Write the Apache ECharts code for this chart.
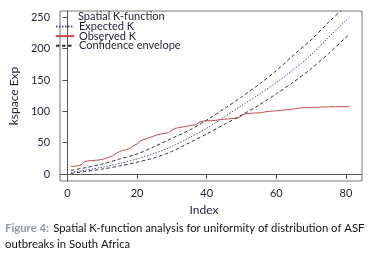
<!DOCTYPE html>
<html>
<head>
<meta charset="utf-8">
<script src="https://cdn.jsdelivr.net/npm/echarts@6/dist/echarts.min.js"></script>
<style>
  html, body { margin: 0; padding: 0; background: #fff; }
  #chart { width: 371px; height: 257px; }
</style>
</head>
<body>
<div id="chart"></div>
<script>
// index values for the smooth curves (expected K + envelope)
var envIndex = [1, 5, 10, 15, 20, 25, 30, 35, 40, 45, 50, 55, 60, 65, 70, 75, 80, 81];
var expectedK = [3, 6, 11, 17, 24, 33, 44, 58, 73, 91, 109, 127, 146, 167, 190, 218, 245, 250];
var upperEnv  = [6, 10, 16, 24, 32, 44, 57, 70, 86, 104, 123, 143, 165, 190, 214, 242, 268, 274];
var lowerEnv  = [1, 4, 8, 13, 19, 26, 36, 50, 64, 79, 94, 110, 128, 147, 168, 192, 218, 223];

// observed K, one value per index 1..81
var obsIndex = [];
for (var i = 1; i <= 81; i++) obsIndex.push(i);
var observedK = [
    12, 12.5, 13, 15, 20, 21, 21.5, 22, 22.5, 23.5,
    25, 27, 29, 33, 36, 38, 39, 41, 45, 48,
    53, 55, 57, 59, 61, 63, 64, 65, 66, 70,
    73, 74, 75, 76, 77, 78, 78.5, 83, 84.5, 85,
    85, 85.5, 86, 87, 87.5, 88, 88.5, 89, 89.5, 93,
    96, 96.5, 97, 97.5, 97.5, 98, 99.5, 100, 100.5, 101,
    101.5, 102, 102.5, 103, 104, 104.5, 105.5, 106, 106, 106.5,
    106.5, 106.5, 107, 107, 107, 107.5, 107.5, 107.5, 107.5, 107.5, 107.5
];

var xTicks = [0, 20, 40, 60, 80];
var yTicks = [0, 50, 100, 150, 200, 250];

function pairs(xs, ys) {
    return xs.map(function (x, k) { return [x, ys[k]]; });
}

var txt = '#1f1f3a';
var font = 'Lato';

var chart = echarts.init(document.getElementById('chart'), null, { renderer: 'canvas' });

var option = {
    animation: false,
    textStyle: { fontFamily: font },
    title: [{
        text: 'Spatial K-function',
        left: 78, top: 11,
        padding: 0,
        textStyle: { fontFamily: font, fontSize: 11, fontWeight: 'normal', color: txt }
    }, {
        text: '{b|Figure 4:} {n|Spatial K-function analysis for uniformity of distribution of ASF}\n{n|outbreaks in South Africa}',
        left: 5, top: 220,
        padding: 0,
        textStyle: {
            fontFamily: font,
            lineHeight: 16,
            rich: {
                b: { fontFamily: font, fontSize: 11.3, fontWeight: 'bold', color: '#8f9ca6', lineHeight: 16 },
                n: { fontFamily: font, fontSize: 11.3, fontWeight: 'normal', color: '#111', lineHeight: 16 }
            }
        }
    }],
    legend: {
        orient: 'vertical',
        left: 55, top: 21,
        itemWidth: 18, itemHeight: 8,
        itemGap: -1.4,
        padding: 0,
        itemStyle: { opacity: 0 },
        textStyle: { fontFamily: font, fontSize: 11, color: txt },
        data: ['Expected K', 'Observed K', 'Confidence envelope']
    },
    grid: {
        left: 47.5, right: 9, top: 11, bottom: 76,
        show: true, borderColor: '#777', borderWidth: 1,
        containLabel: false
    },
    xAxis: {
        type: 'value',
        min: -2.1, max: 84.6,
        name: 'Index',
        nameLocation: 'middle',
        nameGap: 22,
        nameTextStyle: { fontFamily: font, fontSize: 12, color: txt, padding: [0, 14, 0, 0] },
        axisLine: { show: true, lineStyle: { color: '#555' } },
        axisTick: { show: true, length: 5, customValues: xTicks, lineStyle: { color: '#555' } },
        axisLabel: { customValues: xTicks, margin: 7, fontFamily: font, fontSize: 11, color: txt },
        splitLine: { show: false }
    },
    yAxis: {
        type: 'value',
        min: -11, max: 260,
        name: 'kspace Exp',
        nameLocation: 'middle',
        nameGap: 30,
        nameTextStyle: { fontFamily: font, fontSize: 12, color: txt },
        axisLine: { show: true, lineStyle: { color: '#555' } },
        axisTick: { show: true, length: 5, customValues: yTicks, lineStyle: { color: '#555' } },
        axisLabel: { customValues: yTicks, margin: 10, fontFamily: font, fontSize: 11, color: txt },
        splitLine: { show: false }
    },
    series: [{
        name: 'Expected K',
        type: 'line',
        symbol: 'none',
        smooth: 0.3,
        data: pairs(envIndex, expectedK),
        lineStyle: { color: '#4a4ab8', width: 1, type: [1.5, 1.5] },
        itemStyle: { color: '#4a4ab8' }
    }, {
        name: 'Observed K',
        type: 'line',
        symbol: 'none',
        data: pairs(obsIndex, observedK),
        lineStyle: { color: '#c84848', width: 1 },
        itemStyle: { color: '#c84848' }
    }, {
        name: 'Confidence envelope',
        type: 'line',
        symbol: 'none',
        smooth: 0.3,
        data: pairs(envIndex, upperEnv),
        lineStyle: { color: '#333', width: 1, type: [3.5, 2.5] },
        itemStyle: { color: '#333' }
    }, {
        name: 'Confidence envelope',
        type: 'line',
        symbol: 'none',
        smooth: 0.3,
        data: pairs(envIndex, lowerEnv),
        lineStyle: { color: '#333', width: 1, type: [3.5, 2.5] },
        itemStyle: { color: '#333' }
    }]
};

chart.setOption(option);
</script>
</body>
</html>
